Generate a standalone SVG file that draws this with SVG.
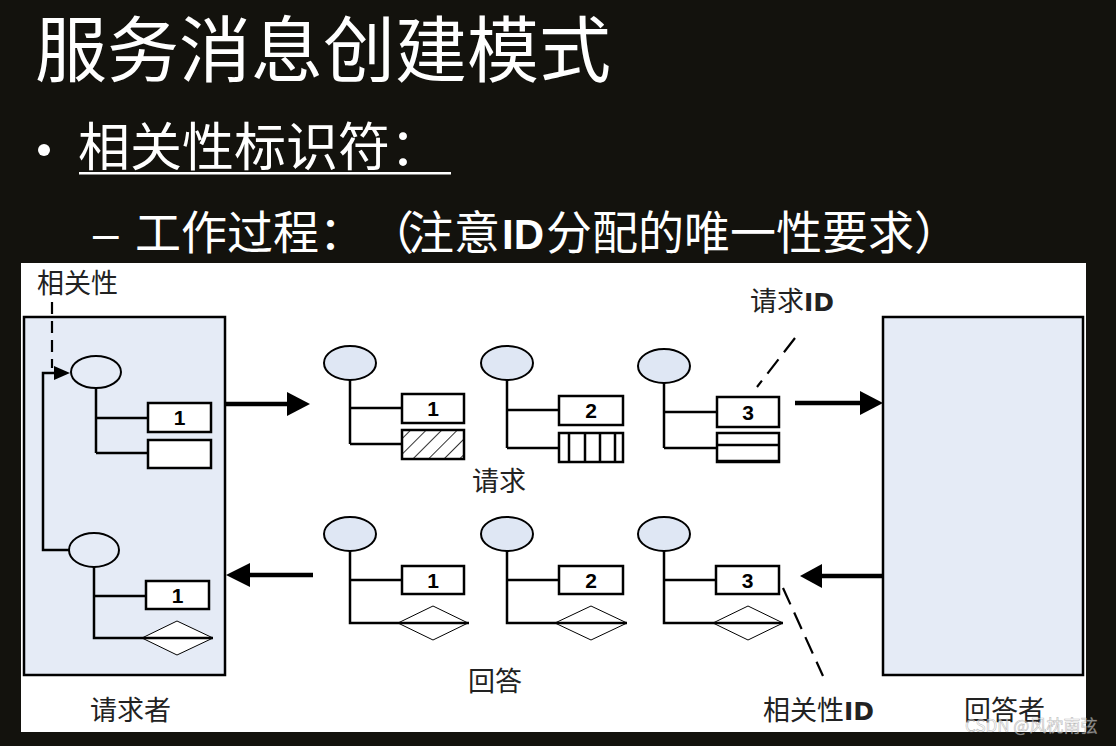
<svg xmlns="http://www.w3.org/2000/svg" width="1116" height="746" viewBox="0 0 1116 746">
<style>
text{text-spacing-trim:space-all}
.hd{font-family:"Noto Sans CJK SC","Noto Sans",sans-serif;fill:#ffffff}
.lb{font-family:"Noto Sans CJK SC","Noto Sans",sans-serif;fill:#222222;font-size:27px}
.id{font-family:"DejaVu Sans","Liberation Sans",sans-serif;font-weight:bold;font-size:25px}
.num{font-family:"Liberation Sans",Arial,sans-serif;font-weight:bold;font-size:21px;fill:#000;text-anchor:middle}
.bx{fill:#ffffff;stroke:#000;stroke-width:2.5}
.ln{fill:none;stroke:#000;stroke-width:2.5}
.el{fill:#dfe7f4;stroke:#000;stroke-width:2}
.dm{fill:#ffffff;stroke:#000;stroke-width:1}
.dash{fill:none;stroke:#000;stroke-width:2.2;stroke-dasharray:12 7}
.dash2{fill:none;stroke:#000;stroke-width:2.2;stroke-dasharray:18 9}
.thick{fill:none;stroke:#000;stroke-width:4.5}
.panel{fill:#e5ebf6;stroke:#000;stroke-width:2.5}
</style>
<defs>
<pattern id="hatch" width="11" height="11" patternUnits="userSpaceOnUse" patternTransform="rotate(45)">
<line x1="0" y1="0" x2="0" y2="11" stroke="#000" stroke-width="1.6"/>
</pattern>
</defs>
<rect x="0" y="0" width="1116" height="746" fill="#13120d"/>
<g id="header">
<text class="hd" x="35" y="76" font-size="72">服务消息创建模式</text>
<circle cx="44" cy="150" r="6" fill="#ffffff"/>
<text class="hd" x="78" y="166" font-size="52">相关性标识符：</text>
<rect x="79" y="172" width="372" height="2.5" fill="#ffffff"/>
<text class="hd" y="249" font-size="46"><tspan x="93" font-family="Liberation Sans, Arial, sans-serif">–</tspan><tspan x="135">工作过程：</tspan><tspan x="368">（</tspan><tspan x="408">注意</tspan><tspan x="502" font-family="Liberation Sans, Arial, sans-serif" font-weight="bold" font-size="42">ID</tspan><tspan x="546">分配的唯一性要求）</tspan></text>
</g>
<rect x="21" y="263" width="1065" height="469" fill="#ffffff"/>
<g id="requester">
<rect class="panel" x="24" y="317" width="201" height="358"/>
<text class="lb" x="90" y="720">请求者</text>
</g>
<g id="responder">
<rect class="panel" x="883" y="317" width="200" height="358"/>
<text class="lb" x="964" y="720">回答者</text>
</g>
<g id="req-msg-0">
<ellipse cx="96" cy="372" rx="25" ry="16" fill="#e5ebf6" stroke="#000" stroke-width="2"/>
<path class="ln" d="M96 388 V453 M96 418 H148 M96 453 H148"/>
<rect class="bx" x="148" y="403" width="63" height="29"/>
<text class="num" x="179.5" y="425">1</text>
<rect class="bx" x="148" y="440" width="63" height="28"/>
</g>
<g id="reply-msg-0">
<ellipse cx="94" cy="550" rx="25" ry="17" fill="#e5ebf6" stroke="#000" stroke-width="2"/>
<path class="dm" d="M142 638 L177 621 L213 638 L177 655 Z"/>
<path class="ln" d="M94 567 V638 H213 M94 596 H146"/>
<rect class="bx" x="146" y="581" width="63" height="28"/>
<text class="num" x="177.5" y="603">1</text>
</g>
<g id="req-msg-1">
<ellipse class="el" cx="350" cy="363" rx="26" ry="17"/>
<path class="ln" d="M350 380 V444 M350 408 H402 M350 444 H402"/>
<rect class="bx" x="402" y="394" width="62" height="29"/>
<text class="num" x="433" y="416">1</text>
<rect x="402" y="430" width="62" height="29" fill="url(#hatch)" stroke="#000" stroke-width="2.5"/>
</g>
<g id="req-msg-2">
<ellipse class="el" cx="507" cy="363" rx="26" ry="17"/>
<path class="ln" d="M507 380 V448 M507 410 H559 M507 448 H559"/>
<rect class="bx" x="559" y="396" width="64" height="29"/>
<text class="num" x="591" y="418">2</text>
<rect class="bx" x="559" y="433" width="64" height="29"/>
<path class="ln" stroke-width="2" d="M569 433 V462 M585 433 V462 M600 433 V462 M615 433 V462"/>
</g>
<g id="req-msg-3">
<ellipse class="el" cx="664" cy="366" rx="26" ry="17"/>
<path class="ln" d="M664 383 V448 M664 412 H717 M664 448 H717"/>
<rect class="bx" x="717" y="397" width="62" height="30"/>
<text class="num" x="748" y="420">3</text>
<rect class="bx" x="717" y="433" width="62" height="29"/>
<path class="ln" stroke-width="2" d="M717 445 H779"/>
<path class="ln" stroke-width="3.5" d="M717 461 H779"/>
</g>
<g id="reply-msg-1">
<ellipse class="el" cx="350" cy="534" rx="26" ry="17"/>
<path class="dm" d="M398 623 L433 606 L468 623 L433 640 Z"/>
<path class="ln" d="M350 551 V623 H469 M350 580 H402"/>
<rect class="bx" x="402" y="566" width="62" height="28"/>
<text class="num" x="433" y="588">1</text>
</g>
<g id="reply-msg-2">
<ellipse class="el" cx="507" cy="534" rx="26" ry="17"/>
<path class="dm" d="M555 623 L591 606 L627 623 L591 640 Z"/>
<path class="ln" d="M507 551 V623 H627 M507 580 H559"/>
<rect class="bx" x="559" y="566" width="64" height="28"/>
<text class="num" x="591" y="588">2</text>
</g>
<g id="reply-msg-3">
<ellipse class="el" cx="664" cy="534" rx="26" ry="17"/>
<path class="dm" d="M713 623 L748 606 L783 623 L748 640 Z"/>
<path class="ln" d="M664 551 V623 H783 M664 580 H716"/>
<rect class="bx" x="716" y="566" width="63" height="28"/>
<text class="num" x="747.5" y="588">3</text>
</g>
<g id="labels">
<text class="lb" x="37" y="293">相关性</text>
<text class="lb" x="472" y="491">请求</text>
<text class="lb" x="468" y="691">回答</text>
<text class="lb" x="750" y="311">请求<tspan class="id">ID</tspan></text>
<text class="lb" x="763" y="720">相关性<tspan class="id">ID</tspan></text>
</g>
<g id="connectors">
<path class="dash" d="M52 302 V368"/>
<path class="ln" d="M69 550 H43 V373 H56"/>
<polygon points="54,366 70,373 54,380" fill="#000"/>
<path class="thick" d="M225 404 H290"/>
<polygon points="287,392 310,404 287,416" fill="#000"/>
<path class="thick" d="M795 403 H863"/>
<polygon points="860,391 883,403 860,415" fill="#000"/>
<path class="thick" d="M313 575 H247"/>
<polygon points="250,563 226,575 250,587" fill="#000"/>
<path class="thick" d="M883 576 H819"/>
<polygon points="822,564 800,576 822,588" fill="#000"/>
<path class="dash2" d="M795 338 L757 387"/>
<path class="dash2" d="M783 588 L823 676"/>
</g>
<text x="965" y="732" font-family="Noto Sans CJK SC, Liberation Sans, sans-serif" font-size="17" fill="#ffffff" fill-opacity="0.55" stroke="#777" stroke-opacity="0.5" stroke-width="0.6">CSDN @风枕南弦</text>
</svg>
